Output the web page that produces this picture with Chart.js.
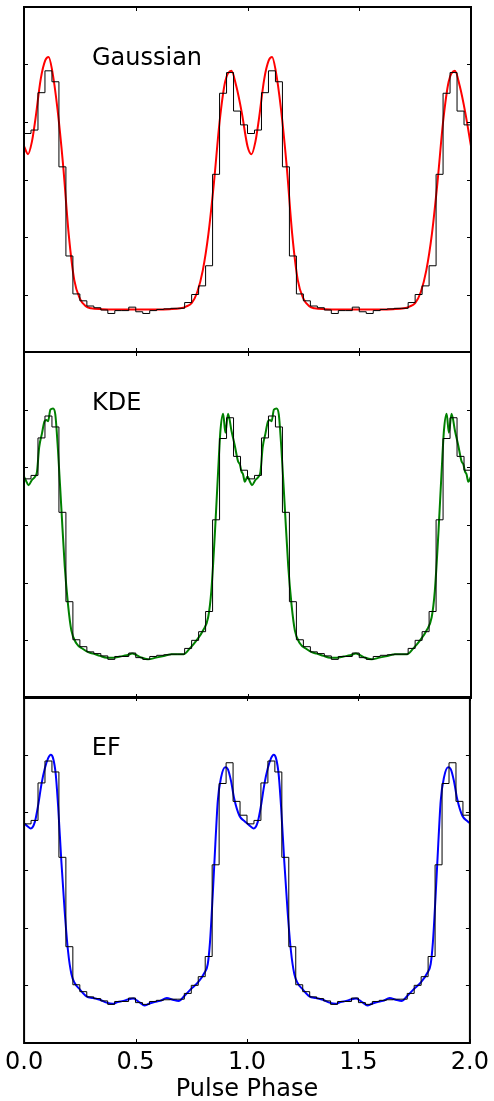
<!DOCTYPE html>
<html>
<head>
<meta charset="utf-8">
<script src="https://cdn.jsdelivr.net/npm/chart.js@4.4.1/dist/chart.umd.min.js"></script>
<style>
html, body { margin: 0; padding: 0; background: #ffffff; }
#wrap { position: relative; width: 494px; height: 1101px; overflow: hidden; background: #ffffff; }
canvas { position: absolute; left: 0; }
</style>
</head>
<body>
<div id="wrap">
  <canvas id="c1" width="494" height="360" style="top:0px;width:494px;height:360px"></canvas>
  <canvas id="c2" width="494" height="360" style="top:345px;width:494px;height:360px"></canvas>
  <canvas id="c3" width="494" height="414" style="top:690px;width:494px;height:414px"></canvas>
</div>
<script>
// ---------------- data (one pulse cycle, repeated twice) ----------------
const panelLabels = ["Gaussian", "KDE", "EF"];
const xAxisTitle = "Pulse Phase";
const xTickValues = [0, 0.5, 1.0, 1.5, 2.0];
const yTickValues = [1, 2, 3, 4, 5];
const cycles = 2;

// histogram (32 phase bins per cycle)
const histCounts = [3.80, 3.86, 4.51, 4.89, 4.70, 3.22, 1.67, 1.01, 0.89, 0.80, 0.77, 0.73, 0.67, 0.72, 0.72, 0.78,
                    0.70, 0.67, 0.72, 0.74, 0.75, 0.76, 0.76, 0.86, 1.00, 1.15, 1.50, 3.09, 4.50, 4.86, 4.19, 3.95];

// Gaussian fit curve
const gaussPhase = [0.000, 0.018, 0.035, 0.050, 0.075, 0.095, 0.110, 0.125, 0.150, 0.175, 0.200, 0.225, 0.250, 0.275,
                    0.300, 0.350, 0.400, 0.500, 0.600, 0.650, 0.700, 0.725, 0.750, 0.775, 0.800, 0.825, 0.850, 0.875,
                    0.900, 0.928, 0.950, 0.975, 1.000];
const gaussVals  = [3.58, 3.44, 3.65, 4.02, 4.75, 5.07, 5.13, 4.92, 4.22, 3.25, 2.05, 1.25, 0.93, 0.80,
                    0.76, 0.745, 0.74, 0.74, 0.74, 0.745, 0.76, 0.79, 0.85, 1.04, 1.42, 2.05, 2.95, 4.00,
                    4.70, 4.89, 4.62, 4.15, 3.58];

// KDE curve
const kdePhase = [0.000, 0.010, 0.020, 0.035, 0.050, 0.058, 0.068, 0.080, 0.092, 0.100, 0.108, 0.118, 0.130, 0.140,
                  0.152, 0.167, 0.182, 0.197, 0.212, 0.234, 0.264, 0.290, 0.310, 0.340, 0.370, 0.400, 0.430, 0.460,
                  0.485, 0.500, 0.520, 0.555, 0.590, 0.625, 0.660, 0.700, 0.715, 0.742, 0.772, 0.801, 0.824, 0.838,
                  0.854, 0.868, 0.879, 0.891, 0.901, 0.913, 0.928, 0.943, 0.958, 0.966, 0.973, 0.980, 0.988, 1.000];
const kdeVals  = [3.84, 3.76, 3.69, 3.78, 3.84, 3.92, 4.35, 4.58, 4.80, 4.82, 4.80, 5.00, 5.02, 4.92,
                  4.30, 3.30, 2.30, 1.62, 1.17, 0.95, 0.85, 0.79, 0.77, 0.73, 0.70, 0.70, 0.72, 0.74,
                  0.77, 0.75, 0.71, 0.67, 0.70, 0.73, 0.76, 0.76, 0.76, 0.86, 1.00, 1.17, 1.40, 1.85,
                  2.85, 3.89, 4.64, 4.93, 4.60, 4.93, 4.64, 4.38, 4.10, 4.05, 3.93, 3.88, 3.75, 3.84];

// EF curve
const efPhase = [0.000, 0.015, 0.030, 0.048, 0.063, 0.078, 0.093, 0.108, 0.120, 0.130, 0.142, 0.153, 0.167, 0.182,
                 0.197, 0.212, 0.227, 0.250, 0.280, 0.310, 0.340, 0.370, 0.398, 0.420, 0.445, 0.470, 0.490, 0.505,
                 0.520, 0.540, 0.560, 0.585, 0.610, 0.640, 0.667, 0.695, 0.720, 0.750, 0.780, 0.808, 0.824, 0.834,
                 0.846, 0.858, 0.869, 0.884, 0.902, 0.914, 0.928, 0.943, 0.966, 0.988, 1.000];
const efVals  = [3.81, 3.76, 3.72, 3.83, 4.12, 4.49, 4.76, 4.94, 5.00, 4.94, 4.66, 4.09, 3.16, 2.29,
                 1.60, 1.20, 1.04, 0.93, 0.81, 0.78, 0.75, 0.70, 0.68, 0.71, 0.73, 0.76, 0.77, 0.74,
                 0.70, 0.65, 0.68, 0.71, 0.73, 0.78, 0.75, 0.73, 0.82, 0.94, 1.05, 1.21, 1.37, 1.75,
                 2.55, 3.45, 4.20, 4.61, 4.78, 4.75, 4.55, 4.23, 3.94, 3.85, 3.81];

const curveColors = ["#ff0000", "#008000", "#0000ff"];

// ---------------- helpers ----------------
function histPoints(counts) {
  const pts = [];
  const n = counts.length;
  for (let c = 0; c < cycles; c++) {
    for (let k = 0; k < n; k++) pts.push({ x: c + k / n, y: counts[k] });
  }
  pts.push({ x: cycles, y: counts[n - 1] });
  return pts;
}
function curvePoints(phase, vals) {
  const pts = [];
  for (let c = 0; c < cycles; c++) {
    const last = (c === cycles - 1) ? phase.length : phase.length - 1;
    for (let i = 0; i < last; i++) pts.push({ x: c + phase[i], y: vals[i] });
  }
  return pts;
}

const FONT = '"DejaVu Sans", "Liberation Sans", sans-serif';
const tickLen = 4;

const framePlugin = {
  id: 'panelFrame',
  afterDatasetsDraw(chart, args, opts) {
    const { ctx, chartArea: a, scales } = chart;
    ctx.save();
    ctx.strokeStyle = '#000';
    ctx.lineWidth = 1;
    ctx.beginPath();
    for (const v of xTickValues) {
      const px = Math.round(scales.x.getPixelForValue(v)) + 0.5;
      ctx.moveTo(px, a.top); ctx.lineTo(px, a.top + tickLen);
      ctx.moveTo(px, a.bottom); ctx.lineTo(px, a.bottom - tickLen);
    }
    for (const v of yTickValues) {
      const py = Math.round(scales.y.getPixelForValue(v)) + 0.5;
      ctx.moveTo(a.left, py); ctx.lineTo(a.left + tickLen, py);
      ctx.moveTo(a.right, py); ctx.lineTo(a.right - tickLen, py);
    }
    ctx.stroke();
    ctx.lineWidth = 2;
    ctx.strokeRect(a.left, a.top, a.right - a.left, a.bottom - a.top);
    ctx.fillStyle = '#000';
    ctx.font = '24px ' + FONT;
    ctx.textBaseline = 'alphabetic';
    ctx.textAlign = 'left';
    ctx.fillText(opts.label, a.left + 0.152 * (a.right - a.left), a.top + 58);
    ctx.restore();
  }
};

function makePanel(id, idx, phase, vals, showX, padding) {
  const xScale = {
    type: 'linear', min: 0, max: 2,
    display: showX,
    grid: { display: false, drawTicks: false },
    border: { display: false },
    ticks: {
      stepSize: 0.5, autoSkip: false, maxRotation: 0, padding: 5,
      color: '#000', font: { family: FONT, size: 24 },
      callback: (v) => Number(v).toFixed(1)
    },
    title: { display: showX, text: xAxisTitle, color: '#000', font: { family: FONT, size: 24 }, padding: { top: 0, bottom: 0 } }
  };
  if (showX) xScale.afterFit = (s) => { s.height = 61; };
  return new Chart(document.getElementById(id), {
    type: 'line',
    data: {
      datasets: [
        { data: histPoints(histCounts), stepped: 'before', borderColor: '#000', borderWidth: 1, pointRadius: 0, fill: false },
        { data: curvePoints(phase, vals), borderColor: curveColors[idx], borderWidth: 2, pointRadius: 0, fill: false,
          cubicInterpolationMode: 'monotone' }
      ]
    },
    options: {
      responsive: false, animation: false, parsing: true,
      layout: { padding: padding },
      plugins: { legend: { display: false }, tooltip: { enabled: false }, panelFrame: { label: panelLabels[idx] } },
      scales: { x: xScale, y: { type: 'linear', min: 0, max: 6, display: false } }
    },
    plugins: [framePlugin]
  });
}

makePanel('c1', 0, gaussPhase, gaussVals, false, { left: 24, right: 23, top: 7, bottom: 8 });
makePanel('c2', 1, kdePhase, kdeVals, false, { left: 24, right: 23, top: 7, bottom: 7 });
makePanel('c3', 2, efPhase, efVals, true, { left: 24, right: 23, top: 7, bottom: 0 });
</script>
</body>
</html>
